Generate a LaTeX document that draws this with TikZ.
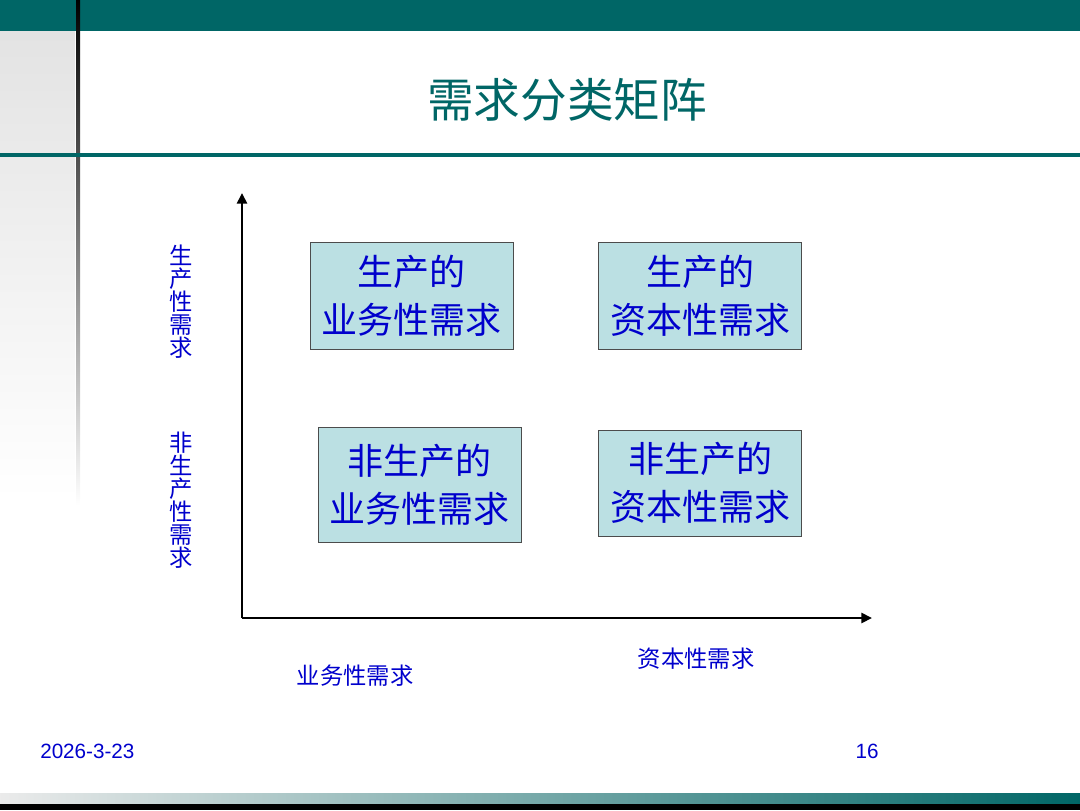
\documentclass[tikz,border=0pt]{standalone}
\usepackage{fontspec}
\setmainfont{Liberation Sans}
\newfontfamily\cjk{Noto Sans CJK SC}
\usetikzlibrary{arrows.meta, positioning}
\definecolor{slideteal}{HTML}{006666}
\definecolor{textblue}{HTML}{0000CC}
\definecolor{cellfill}{HTML}{BBE0E3}
\tikzset{
    slide/.style={x=0.75pt, y=-0.75pt, >={Triangle[length=8pt, width=7.5pt]}},
    cell/.style={draw=black!70, fill=cellfill, minimum width=152pt, minimum height=80pt,
        align=center, text=textblue, font=\cjk\fontsize{27}{36}\selectfont},
    axis/.style={->, line width=2.2pt},
    axislabel/.style={text=textblue, font=\cjk\fontsize{17.5}{17.3}\selectfont, align=center, inner sep=0pt},
    footer/.style={text=textblue, font=\fontsize{15.5}{18}\selectfont, inner sep=0pt},
}

\begin{document}
\begin{tikzpicture}[slide]
    \useasboundingbox (0,0) rectangle (1080,810);
    % frame of the slide
    \fill[slideteal] (0,0) rectangle (1080,31);
    \shade[top color=black!11, bottom color=white] (0,31) rectangle (75,500);
    \shade[top color=black, bottom color=white] (76,0) rectangle (80,505);
    \fill[slideteal] (0,153) rectangle (1080,157);
    \shade[left color=black!8, right color=slideteal] (0,793) rectangle (1080,803);
    \fill[black] (0,804) rectangle (1080,810);

    \node[text=slideteal, font=\cjk\fontsize{35}{40}\selectfont] (title) at (567,100) {需求分类矩阵};

    % the four cells
    \node[cell]                          (pb) at (411.5,295.5) {生产的\\业务性需求};
    \node[cell]                          (pc) at (700,295.5)   {生产的\\资本性需求};
    \node[cell, minimum height=86pt]     (nb) at (419.5,484.5) {非生产的\\业务性需求};
    \node[cell, minimum height=79.5pt]   (nc) at (700,483)     {非生产的\\资本性需求};

    % axes
    \coordinate (origin) at (242,618);
    \coordinate (ytip)   at (242,193);
    \coordinate (xtip)   at (872,618);
    \draw[axis] (origin) -- (ytip);
    \draw[axis] (origin) -- (xtip);

    \node[axislabel] (yprod)  at (181,302) {生\\产\\性\\需\\求};
    \node[axislabel] (ynprod) at (181,500) {非\\生\\产\\性\\需\\求};
    \node[axislabel] (xbiz)   at (355,676) {业务性需求};
    \node[axislabel] (xcap)   at (696,659) {资本性需求};

    \node[footer, anchor=west] (date) at (40,751) {2026-3-23};
    \node[footer]              (page) at (867,751) {16};
\end{tikzpicture}
\end{document}
